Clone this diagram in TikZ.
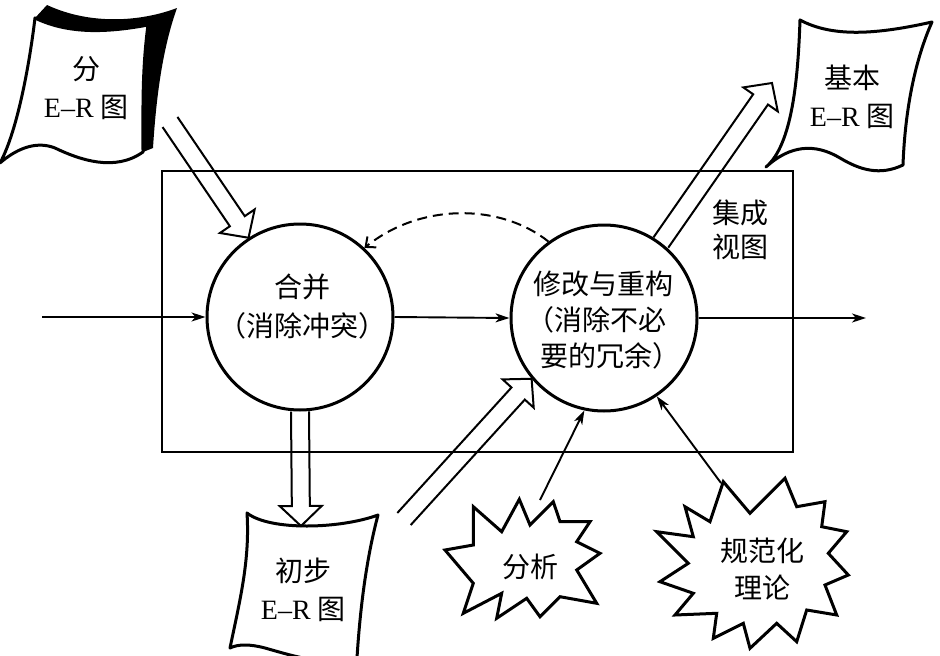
\documentclass[tikz,border=0pt]{standalone}
\usepackage{fontspec}
\setmainfont{Liberation Serif}
\newfontfamily\cjk[RawFeature=+halt]{Noto Sans CJK SC}
\usetikzlibrary{arrows.meta,calc}
\newcommand{\zhfont}{\fontsize{28}{38}\selectfont\cjk}
\newcommand{\er}{{\rmfamily\fontsize{28}{38}\selectfont E–R}}
\newcommand{\hollowarrow}[2]{%
  \coordinate (hb) at ($(#2)!20pt!(#1)$);
  \draw[hollow] ($(#1)!9pt!90:(#2)$) -- ($(hb)!9pt!90:(#2)$) -- ($(hb)!21pt!90:(#2)$) -- (#2)
    -- ($(hb)!21pt!-90:(#2)$) -- ($(hb)!9pt!-90:(#2)$) -- ($(#1)!9pt!-90:(#2)$);
}
\begin{document}
\begin{tikzpicture}[x=1pt,y=-1pt,
  circ/.style={circle, draw, line width=3pt, minimum size=186pt, inner sep=0pt},
  txt/.style={font=\zhfont, align=center, inner sep=0pt},
  hollow/.style={line width=2pt, line join=miter},
  thinarrow/.style={line width=1.9pt, -{Stealth[length=14pt,width=9pt,inset=4pt]}},
  dasharrow/.style={line width=2pt, dash pattern=on 10pt off 6pt, -{Straight Barb[length=8pt,width=14pt]}},
  doc/.style={line width=3pt, fill=white, line join=round},
  burst/.style={line width=3pt, fill=white, line join=miter},
  boxst/.style={draw, line width=2.8pt, inner sep=0pt}]
\useasboundingbox (0,0) rectangle (940,656);
\clip (0,0) rectangle (940,656);
\fill[white] (0,0) rectangle (940,656);

% frame
\node[boxst, minimum width=631pt, minimum height=281pt] (box) at (477.5,311.5) {};

% circles
\node[circ] (c1) at (300,317) {};
\node[txt, font=\fontsize{28}{39}\selectfont\cjk] (t1) at (302,307) {合并\\（消除冲突）};
\node[circ] (c2) at (604,318) {};
\node[txt, font=\fontsize{28}{36}\selectfont\cjk] (t2) at (603,320) {修改与重构\\（消除不必\\要的冗余）};

\node[txt, font=\fontsize{28}{34}\selectfont\cjk] (jc) at (740,230) {集成\\视图};

% document 分 E-R 图 (with shadow)
\fill[black] (35,18) -- (47,5) .. controls (90,25) and (140,22) .. (177,8)
  .. controls (162,50) and (156,100) .. (153,148) -- (143,152) -- cycle;
\draw[doc] (35,18) .. controls (70,35) and (110,32) .. (148,25)
  .. controls (142,70) and (143,110) .. (143,152)
  .. controls (115,172) and (80,160) .. (55,148)
  .. controls (35,140) and (15,150) .. (0,163)
  .. controls (18,130) and (30,60) .. (35,18) -- cycle;
\node[txt] (d1) at (86,88) {分\\\er{} 图};

% document 基本 E-R 图
\draw[doc] (800,20) .. controls (830,36) and (870,36) .. (932,22)
  .. controls (915,60) and (905,110) .. (903,165)
  .. controls (880,176) and (860,170) .. (840,158)
  .. controls (815,143) and (790,145) .. (766,167)
  .. controls (792,145) and (798,80) .. (800,20) -- cycle;
\node[txt] (d2) at (852,97) {基本\\\er{} 图};

% document 初步 E-R 图
\draw[doc] (247,513) .. controls (270,531) and (340,529) .. (378,515)
  .. controls (366,560) and (360,610) .. (357,658)
  .. controls (330,668) and (290,655) .. (265,648)
  .. controls (250,644) and (238,644) .. (230,648)
  .. controls (240,600) and (250,560) .. (247,513) -- cycle;
\node[txt] (d3) at (303,590) {初步\\\er{} 图};

% bursts
\draw[burst] (473.3,506.7) -- (501.7,531.7) -- (519.3,499.3) -- (530,525) -- (553.3,501.7)
  -- (560,521.7) -- (590,521.7) -- (576.7,541.7) -- (600,553.3) -- (576.7,570)
  -- (596.7,603.3) -- (560,596.7) -- (540,616.7) -- (526.7,598.3) -- (496.7,618.3)
  -- (501.7,593.3) -- (463.3,613.3) -- (473.3,583.3) -- (445,550) -- (473.3,545) -- cycle;
\node[txt] (fx) at (530,567) {分析};
\draw[burst] (723.3,481.7) -- (750,513.3) -- (785,478.3) -- (796.7,506.7) -- (825,501.7)
  -- (821.7,526.7) -- (846.7,531.7) -- (828.3,553.3) -- (848.3,575) -- (825,585)
  -- (836.7,615) -- (806.7,610) -- (796.7,641.7) -- (776.7,623.3) -- (750,648.3)
  -- (743.3,623.3) -- (713.3,638.3) -- (716.7,613.3) -- (675,615) -- (693.3,593.3)
  -- (660,581.7) -- (688.3,563.3) -- (656.7,531.7) -- (693.3,536.7) -- (685,506.7)
  -- (710,521.7) -- cycle;
\node[txt, font=\fontsize{28}{37}\selectfont\cjk] (gf) at (762,569) {规范化\\理论};

% free ends
\coordinate (lin) at (42,317);
\coordinate (rout) at (866,318);
\coordinate (s1) at (540,500);
\coordinate (s2) at (721,483);
\coordinate (h1s) at (170,122);
\coordinate (h2t) at (301,526);
\coordinate (h3s) at (404,519);
\coordinate (h4t) at (772,83);

% thin arrows
\draw[thinarrow] (lin) -- (c1.west);
\draw[thinarrow] (c1.east) -- (c2.west);
\draw[thinarrow] (c2.east) -- (rout);
\draw[thinarrow] (s1) -- (c2.258);
\draw[thinarrow] (s2) -- (c2.304);
\draw[dasharrow] (c2.126) .. controls (500,203) and (420,203) .. (c1.47);

% hollow arrows
\hollowarrow{h1s}{c1.123}
\hollowarrow{c1.south}{h2t}
\hollowarrow{h3s}{c2.220}
\hollowarrow{c2.53}{h4t}
\end{tikzpicture}
\end{document}
